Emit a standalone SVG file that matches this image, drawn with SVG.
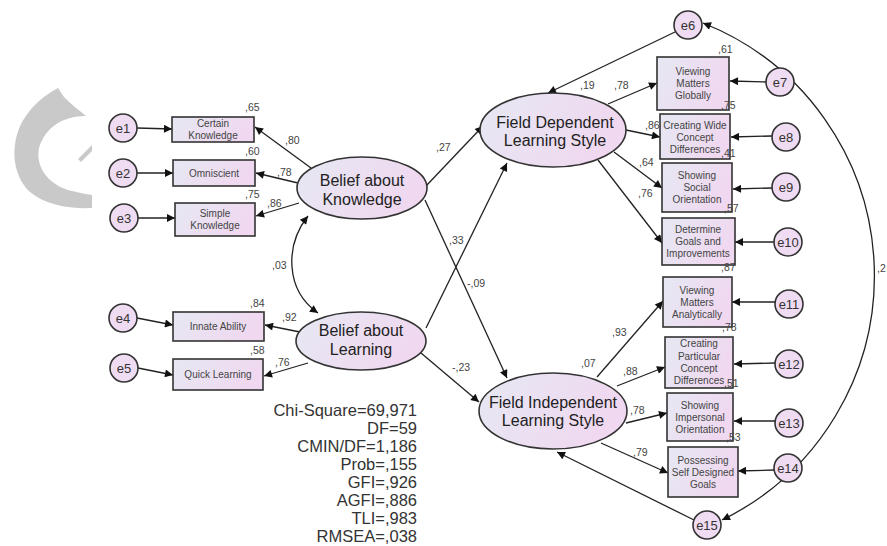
<svg xmlns="http://www.w3.org/2000/svg" width="887" height="546" viewBox="0 0 887 546">
<defs>
<linearGradient id="g" x1="0" y1="0" x2="1" y2="0.3">
<stop offset="0" stop-color="#e6e8f3"/>
<stop offset="1" stop-color="#f0d8f0"/>
</linearGradient>
<marker id="ah" viewBox="0 0 10 10" refX="10" refY="5" markerWidth="12" markerHeight="8" markerUnits="userSpaceOnUse" orient="auto-start-reverse">
<path d="M0,0 L10,5 L0,10 z" fill="#111"/>
</marker>
<style>
.n{fill:url(#g);stroke:#333;stroke-width:1.6}
.e{fill:#f0dcf2;stroke:#333;stroke-width:1.6}
.c{fill:none;stroke:#222;stroke-width:1.3;marker-end:url(#ah)}
.c2{fill:none;stroke:#222;stroke-width:1.3;marker-end:url(#ah);marker-start:url(#ah)}
text{font-family:"Liberation Sans",Arial,sans-serif}
.big{font-size:16px;fill:#222;text-anchor:middle}
.bx{font-size:10px;fill:#444;text-anchor:middle}
.el{font-size:13px;fill:#333;text-anchor:middle}
.lb{font-size:10.5px;fill:#444}
.st{font-size:16.5px;fill:#333;text-anchor:end}
</style>
</defs>
<rect width="887" height="546" fill="#fff"/>
<g id="watermark" fill="#c9c9c9">
<path d="M58,88 L64,97 C72,105 80,111 86,116 C62,116 45,128 39,148 C35,168 50,186 72,191 C80,193 86,194 92,195 L92,208 C70,209 45,205 30,192 C12,175 10,145 22,122 C32,105 45,95 58,88 Z"/>
<path d="M78,159 L92,145 L92,151 L81,162 Z"/>
</g>
<g id="connectors">
<line class="c" x1="137" y1="128" x2="172" y2="129"/>
<line class="c" x1="137" y1="173" x2="173" y2="173"/>
<line class="c" x1="138" y1="218" x2="175" y2="218"/>
<line class="c" x1="137" y1="318" x2="173" y2="325"/>
<line class="c" x1="138" y1="368" x2="173" y2="375"/>
<line class="c" x1="311" y1="168" x2="255" y2="127"/>
<line class="c" x1="298" y1="183" x2="256" y2="173"/>
<line class="c" x1="299" y1="203" x2="256" y2="216"/>
<line class="c" x1="300" y1="332" x2="265" y2="325"/>
<line class="c" x1="308" y1="363" x2="264" y2="376"/>
<path class="c2" d="M308,216 C285,245 285,290 318,313"/>
<line class="c" x1="426" y1="186" x2="483" y2="126"/>
<line class="c" x1="426" y1="328" x2="507" y2="163"/>
<line class="c" x1="425" y1="200" x2="507" y2="378"/>
<line class="c" x1="421" y1="353" x2="479" y2="402"/>
<line class="c" x1="675" y1="32" x2="548" y2="93"/>
<line class="c" x1="608" y1="104" x2="657" y2="83"/>
<line class="c" x1="626" y1="130" x2="660" y2="137"/>
<line class="c" x1="614" y1="152" x2="662" y2="188"/>
<line class="c" x1="598" y1="160" x2="662" y2="243"/>
<line class="c" x1="597" y1="377" x2="663" y2="301"/>
<line class="c" x1="617" y1="386" x2="665" y2="367"/>
<line class="c" x1="626" y1="423" x2="667" y2="413"/>
<line class="c" x1="601" y1="443" x2="668" y2="473"/>
<line class="c" x1="694" y1="520" x2="557" y2="452"/>
<line class="c" x1="766" y1="82" x2="730" y2="81"/>
<line class="c" x1="772" y1="136" x2="731" y2="137"/>
<line class="c" x1="772" y1="188" x2="733" y2="189"/>
<line class="c" x1="774" y1="242" x2="735" y2="242"/>
<line class="c" x1="775" y1="302" x2="732" y2="302"/>
<line class="c" x1="775" y1="363" x2="734" y2="364"/>
<line class="c" x1="775" y1="421" x2="734" y2="421"/>
<line class="c" x1="774" y1="470" x2="738" y2="471"/>
<path class="c2" d="M703,23 A272,272 0 0 1 722,520"/>
</g>
<g id="BK"><ellipse class="n" cx="362" cy="188" rx="65" ry="31"/><text class="big" x="362" y="186">Belief about</text><text class="big" x="362" y="205">Knowledge</text></g>
<g id="BL"><ellipse class="n" cx="361" cy="341" rx="65" ry="29"/><text class="big" x="361" y="336">Belief about</text><text class="big" x="361" y="355">Learning</text></g>
<g id="FD"><ellipse class="n" cx="553" cy="130" rx="73" ry="37"/><text class="big" x="555" y="128">Field Dependent</text><text class="big" x="555" y="146">Learning Style</text></g>
<g id="FI"><ellipse class="n" cx="553" cy="411" rx="74" ry="38"/><text class="big" x="553" y="408">Field Independent</text><text class="big" x="553" y="426">Learning Style</text></g>
<g id="CK"><rect class="n" x="172" y="117" width="82" height="25"/><text class="bx" x="213" y="127">Certain</text><text class="bx" x="213" y="139">Knowledge</text></g>
<g id="OM"><rect class="n" x="173" y="160" width="82" height="26"/><text class="bx" x="214" y="177">Omniscient</text></g>
<g id="SK"><rect class="n" x="175" y="203" width="80" height="33"/><text class="bx" x="215" y="217">Simple</text><text class="bx" x="215" y="229">Knowledge</text></g>
<g id="IA"><rect class="n" x="173" y="312" width="91" height="29"/><text class="bx" x="218" y="330">Innate Ability</text></g>
<g id="QL"><rect class="n" x="173" y="359" width="90" height="31"/><text class="bx" x="218" y="378">Quick Learning</text></g>
<g id="VMG"><rect class="n" x="657" y="57" width="72" height="53"/><text class="bx" x="693" y="75">Viewing</text><text class="bx" x="693" y="87">Matters</text><text class="bx" x="693" y="99">Globally</text></g>
<g id="CWCD"><rect class="n" x="660" y="114" width="70" height="45"/><text class="bx" x="695" y="129">Creating Wide</text><text class="bx" x="695" y="141">Concept</text><text class="bx" x="695" y="153">Differences</text></g>
<g id="SSO"><rect class="n" x="662" y="163" width="70" height="49"/><text class="bx" x="697" y="179">Showing</text><text class="bx" x="697" y="191">Social</text><text class="bx" x="697" y="203">Orientation</text></g>
<g id="DGI"><rect class="n" x="662" y="218" width="73" height="47"/><text class="bx" x="698" y="233">Determine</text><text class="bx" x="698" y="245">Goals and</text><text class="bx" x="698" y="257">Improvements</text></g>
<g id="VMA"><rect class="n" x="663" y="277" width="69" height="50"/><text class="bx" x="697" y="294">Viewing</text><text class="bx" x="697" y="306">Matters</text><text class="bx" x="697" y="318">Analytically</text></g>
<g id="CPCD"><rect class="n" x="665" y="337" width="68" height="51"/><text class="bx" x="699" y="347">Creating</text><text class="bx" x="699" y="360">Particular</text><text class="bx" x="699" y="372">Concept</text><text class="bx" x="699" y="384">Differences</text></g>
<g id="SIO"><rect class="n" x="667" y="393" width="66" height="48"/><text class="bx" x="700" y="409">Showing</text><text class="bx" x="700" y="421">Impersonal</text><text class="bx" x="700" y="433">Orientation</text></g>
<g id="PSDG"><rect class="n" x="668" y="447" width="70" height="50"/><text class="bx" x="703" y="464">Possessing</text><text class="bx" x="703" y="476">Self Designed</text><text class="bx" x="703" y="488">Goals</text></g>
<g id="e1"><circle class="e" cx="123" cy="128" r="14"/><text class="el" x="123" y="133">e1</text></g>
<g id="e2"><circle class="e" cx="123" cy="173" r="14"/><text class="el" x="123" y="178">e2</text></g>
<g id="e3"><circle class="e" cx="124" cy="218" r="14"/><text class="el" x="124" y="223">e3</text></g>
<g id="e4"><circle class="e" cx="123" cy="318" r="14"/><text class="el" x="123" y="323">e4</text></g>
<g id="e5"><circle class="e" cx="124" cy="368" r="14"/><text class="el" x="124" y="373">e5</text></g>
<g id="e6"><circle class="e" cx="688" cy="25" r="14"/><text class="el" x="688" y="30">e6</text></g>
<g id="e7"><circle class="e" cx="780" cy="82" r="14"/><text class="el" x="780" y="87">e7</text></g>
<g id="e8"><circle class="e" cx="786" cy="137" r="14"/><text class="el" x="786" y="142">e8</text></g>
<g id="e9"><circle class="e" cx="786" cy="187" r="14"/><text class="el" x="786" y="192">e9</text></g>
<g id="e10"><circle class="e" cx="788" cy="242" r="14"/><text class="el" x="788" y="247">e10</text></g>
<g id="e11"><circle class="e" cx="789" cy="304" r="14"/><text class="el" x="789" y="309">e11</text></g>
<g id="e12"><circle class="e" cx="789" cy="364" r="14"/><text class="el" x="789" y="369">e12</text></g>
<g id="e13"><circle class="e" cx="789" cy="423" r="14"/><text class="el" x="789" y="428">e13</text></g>
<g id="e14"><circle class="e" cx="788" cy="468" r="14"/><text class="el" x="788" y="473">e14</text></g>
<g id="e15"><circle class="e" cx="707" cy="525" r="14"/><text class="el" x="707" y="530">e15</text></g>
<g id="labels">
<text class="lb" x="245" y="111">,65</text>
<text class="lb" x="285" y="144">,80</text>
<text class="lb" x="245" y="155">,60</text>
<text class="lb" x="277" y="176">,78</text>
<text class="lb" x="245" y="198">,75</text>
<text class="lb" x="267" y="207">,86</text>
<text class="lb" x="250" y="307">,84</text>
<text class="lb" x="282" y="321">,92</text>
<text class="lb" x="250" y="354">,58</text>
<text class="lb" x="275" y="366">,76</text>
<text class="lb" x="272" y="269">,03</text>
<text class="lb" x="436" y="151">,27</text>
<text class="lb" x="449" y="244">,33</text>
<text class="lb" x="467" y="287">-,09</text>
<text class="lb" x="452" y="371">-,23</text>
<text class="lb" x="580" y="89">,19</text>
<text class="lb" x="614" y="89">,78</text>
<text class="lb" x="645" y="129">,86</text>
<text class="lb" x="639" y="166">,64</text>
<text class="lb" x="638" y="197">,76</text>
<text class="lb" x="718" y="53">,61</text>
<text class="lb" x="721" y="109">,75</text>
<text class="lb" x="721" y="157">,41</text>
<text class="lb" x="724" y="212">,57</text>
<text class="lb" x="721" y="271">,87</text>
<text class="lb" x="722" y="331">,78</text>
<text class="lb" x="724" y="387">,51</text>
<text class="lb" x="726" y="441">,53</text>
<text class="lb" x="581" y="367">,07</text>
<text class="lb" x="612" y="336">,93</text>
<text class="lb" x="623" y="375">,88</text>
<text class="lb" x="630" y="414">,78</text>
<text class="lb" x="633" y="456">,79</text>
<text class="lb" x="877" y="272">,2</text>
</g>
<g id="stats">
<text class="st" x="417" y="416">Chi-Square=69,971</text>
<text class="st" x="417" y="434">DF=59</text>
<text class="st" x="417" y="452">CMIN/DF=1,186</text>
<text class="st" x="417" y="470">Prob=,155</text>
<text class="st" x="417" y="488">GFI=,926</text>
<text class="st" x="417" y="506">AGFI=,886</text>
<text class="st" x="417" y="524">TLI=,983</text>
<text class="st" x="417" y="542">RMSEA=,038</text>
</g>
</svg>
